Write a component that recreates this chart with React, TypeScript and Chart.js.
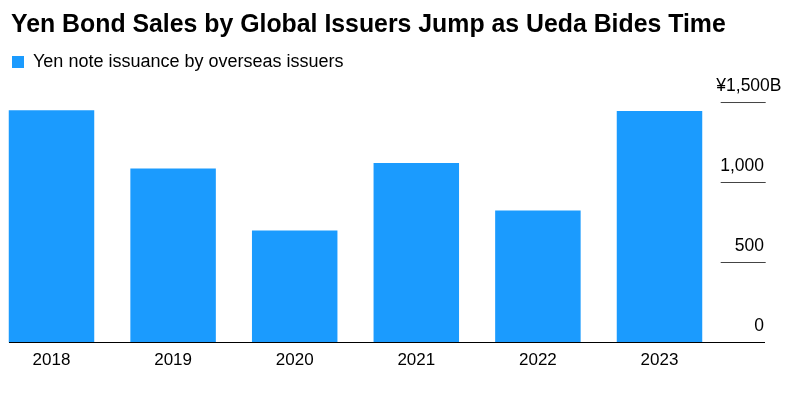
import React, { useEffect, useRef } from 'react';
import { Chart, registerables } from 'chart.js';

Chart.register(...registerables);

const chartTitle = 'Yen Bond Sales by Global Issuers Jump as Ueda Bides Time';
const seriesLabel = 'Yen note issuance by overseas issuers';
const categories = ['2018', '2019', '2020', '2021', '2022', '2023'];
const issuance = [1452, 1087, 700, 1122, 825, 1447];
const yTickValues = [0, 500, 1000, 1500];
const yTickLabels = ['0', '500', '1,000', '¥1,500B'];

const FONT = '"Liberation Sans", Arial, Helvetica, sans-serif';
const BLUE = '#1b9bfe';

const axisLines = {
  id: 'axisLines',
  afterDatasetsDraw(chart: any) {
    const { ctx } = chart;
    const y = chart.scales.y;
    const w = chart.width;
    ctx.save();
    ctx.lineWidth = 1;
    ctx.strokeStyle = '#444444';
    y.ticks.forEach((t: any) => {
      if (t.value === 0) return;
      const py = y.getPixelForValue(t.value);
      ctx.beginPath();
      ctx.moveTo(w - 67.3, py);
      ctx.lineTo(w - 22.3, py);
      ctx.stroke();
    });
    const p0 = y.getPixelForValue(0);
    ctx.strokeStyle = '#000000';
    ctx.beginPath();
    ctx.moveTo(1, p0);
    ctx.lineTo(w - 23, p0);
    ctx.stroke();
    ctx.restore();
  },
};

export default function App() {
  const ref = useRef<HTMLCanvasElement | null>(null);

  useEffect(() => {
    if (!ref.current) return;
    Chart.defaults.font.family = FONT;
    const chart = new Chart(ref.current, {
      type: 'bar',
      data: {
        labels: categories,
        datasets: [
          {
            label: seriesLabel,
            data: issuance,
            backgroundColor: BLUE,
            borderWidth: 0,
            categoryPercentage: 1,
            barPercentage: 0.703,
            clip: false as any,
            yAxisID: 'y',
            xAxisID: 'x',
          },
        ],
      },
      options: {
        animation: false,
        responsive: true,
        maintainAspectRatio: false,
        layout: { padding: { left: 3, right: 6.5, top: 0, bottom: 0 } },
        plugins: {
          title: {
            display: true,
            text: chartTitle,
            align: 'start',
            color: '#000000',
            font: { family: FONT, size: 24.85, weight: 'bold' },
            padding: { top: 2, bottom: 12.2 },
          },
          legend: {
            display: true,
            align: 'start',
            labels: {
              boxWidth: 12,
              boxHeight: 12,
              padding: 1,
              color: '#000000',
              font: { family: FONT, size: 18 },
            },
          },
          tooltip: { enabled: false },
        },
        scales: {
          x: {
            type: 'category',
            position: 'bottom',
            offset: false,
            grid: { display: false, drawTicks: false },
            border: { display: false },
            ticks: {
              color: '#000000',
              font: { family: FONT, size: 17 },
              padding: 7.5,
              maxRotation: 0,
              autoSkip: false,
            },
            afterFit: (s: any) => {
              s.height = 43.5;
            },
          },
          xTop: {
            type: 'linear',
            position: 'top',
            display: true,
            grid: { display: false, drawTicks: false },
            border: { display: false },
            ticks: { display: false },
            afterFit: (s: any) => {
              s.height = 21.5;
            },
          },
          yLeft: {
            type: 'linear',
            position: 'left',
            display: true,
            grid: { display: false, drawTicks: false },
            border: { display: false },
            ticks: { display: false },
            afterFit: (s: any) => {
              s.width = 40.5;
            },
          },
          y: {
            type: 'linear',
            position: 'right',
            min: 0,
            max: 1500,
            grid: { display: false, drawTicks: false },
            border: { display: false },
            afterBuildTicks: (s: any) => {
              s.ticks = yTickValues.map((v) => ({ value: v }));
            },
            ticks: {
              color: '#000000',
              font: { family: FONT, size: 17.5 },
              padding: 0,
              crossAlign: 'far',
              labelOffset: -16.3,
              callback: (_v: any, i: number) =>
                i === yTickLabels.length - 1 ? yTickLabels[i] : yTickLabels[i] + '\u2003',
            },
            afterFit: (s: any) => {
              s.width = 122;
            },
          },
        },
      } as any,
      plugins: [axisLines],
    });
    return () => chart.destroy();
  }, []);

  return (
    <div style={{ position: 'relative', width: 780, height: 378 }}>
      <canvas ref={ref} />
    </div>
  );
}
